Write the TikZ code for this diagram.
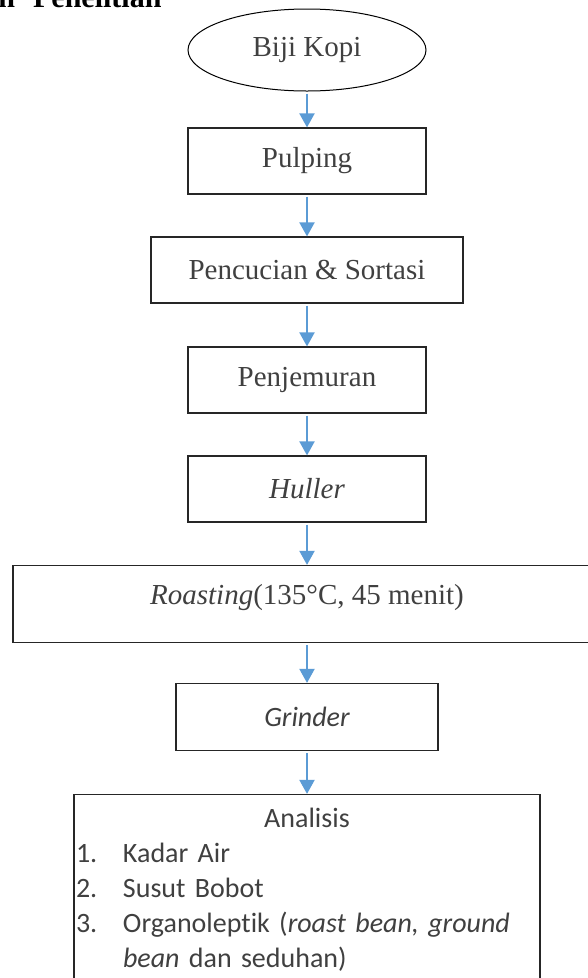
\documentclass[tikz,border=0pt]{standalone}
\usepackage{fontspec}
\setmainfont{Liberation Serif}
\newfontfamily\carlito[Ligatures=NoCommon]{Carlito}
\usetikzlibrary{shapes.geometric, arrows.meta}
\definecolor{arrowblue}{RGB}{91,155,213}
\definecolor{textgray}{RGB}{64,64,64}
\tikzstyle{startstop} = [ellipse, minimum width=238pt, minimum height=82pt, text centered, draw=black, line width=1pt, text=textgray, font=\fontsize{29}{35}\selectfont]
\tikzstyle{process} = [rectangle, minimum width=238pt, minimum height=66pt, text centered, draw=black!85, line width=1.2pt, text=textgray, font=\fontsize{29}{35}\selectfont]
\tikzstyle{listbox} = [rectangle, minimum width=466pt, minimum height=190pt, inner xsep=2pt, text width=462pt, align=left, draw=black!85, line width=1.2pt, text=textgray, font=\carlito\fontsize{28}{35}\selectfont]
\tikzstyle{arrow} = [line width=2pt, ->, >={Triangle[width=15pt,length=14pt]}, shorten <=2pt, arrowblue]

\begin{document}
\begin{tikzpicture}[x=1pt, y=1pt, node distance=110pt]
		\useasboundingbox (0,0) rectangle (587,-978);
		\node (judul) [anchor=base east, font=\bfseries\fontsize{30}{36}\selectfont] at (165,-7) {n\hspace{18pt}Penelitian};
		\node (start) [startstop] at (307,-50) {Biji Kopi};
		\node (pulping) [process, below of = start, yshift = -1pt] {Pulping};
		\node (cuci) [process, below of = pulping, yshift = 1pt, minimum width=312pt] {Pencucian \& Sortasi};
		\node (jemur) [process, below of = cuci] {Penjemuran};
		\node (huller) [process, below of = jemur, yshift = 1pt] {\textit{Huller}};
		\node (roasting) [process, below of = huller, yshift = -5pt, minimum width=588pt, minimum height=77pt, text depth=19pt] {\textit{Roasting}(135°C, 45 menit)};
		\node (grinder) [process, below of = roasting, yshift = -3pt, minimum width=262pt, minimum height=67pt, font=\carlito\itshape\fontsize{28}{34}\selectfont] {Grinder};
		\node (analisis) [listbox, below of = grinder, yshift = -62.5pt] {\makebox[\linewidth]{Analisis}\\
			\makebox[47pt][l]{1.}Kadar Air\\
			\makebox[47pt][l]{2.}Susut Bobot\\
			\makebox[47pt][l]{3.}Organoleptik (\textit{roast bean, ground}\\
			\hspace*{47pt}\textit{bean} dan seduhan)};
		\draw [arrow] (start) -- (pulping);
		\draw [arrow] (pulping) -- (cuci);
		\draw [arrow] (cuci) -- (jemur);
		\draw [arrow] (jemur) -- (huller);
		\draw [arrow] (huller) -- (roasting);
		\draw [arrow] (roasting) -- (grinder);
		\draw [arrow] (grinder) -- (analisis);
	\end{tikzpicture}
\end{document}
